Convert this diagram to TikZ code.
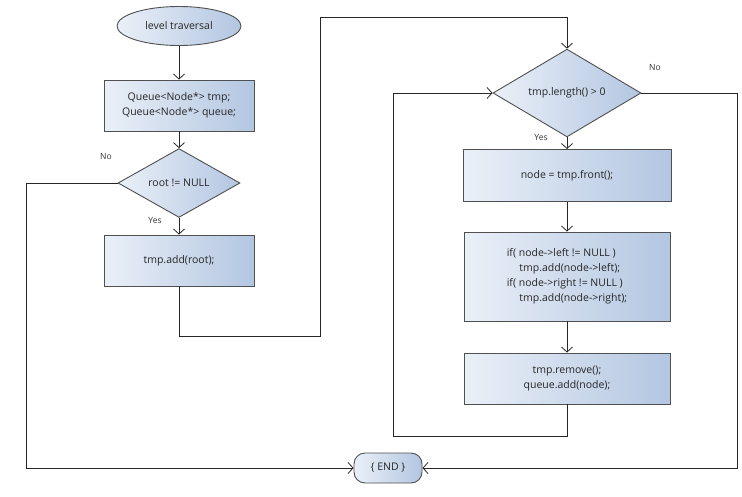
\documentclass[tikz,border=0pt]{standalone}
\usepackage{fontspec}
\setmainfont{Open Sans}
\usetikzlibrary{shapes.geometric,arrows.meta}
\definecolor{gl}{HTML}{EAF0F8}
\definecolor{gr}{HTML}{B3C6E1}
\definecolor{bd}{HTML}{505050}
\tikzset{
  x=1pt,y=-1pt,
  base/.style={draw=bd,line width=0.9pt,left color=gl,right color=gr,inner sep=0pt,font=\fontsize{10.5}{15}\selectfont,text=black!85},
  procbox/.style={base,rectangle},
  decision/.style={base,diamond},
  startshape/.style={base,ellipse},
  endshape/.style={base,rectangle,rounded corners=11pt},
  conn/.style={draw=black!85,line width=0.8pt},
  arr/.style={conn,-{Straight Barb[length=5pt,width=11pt,line width=0.8pt]}},
  lbl/.style={font=\fontsize{8.5}{10}\selectfont,text=black!80}
}
\begin{document}
\begin{tikzpicture}
\useasboundingbox[fill=white] (0,0) rectangle (742,496);
\node[startshape,minimum width=124,minimum height=39] (start) at (179,26) {level traversal};
\node[procbox,minimum width=150,minimum height=51,align=center] (box1) at (179,105.5) {Queue<Node*> tmp;\\Queue<Node*> queue;};
\node[decision,minimum width=122,minimum height=52] (dia1) at (179,183) {root != NULL};
\node[procbox,minimum width=150,minimum height=51] (box2) at (179,260.5) {tmp.add(root);};
\node[decision,minimum width=148,minimum height=59] (dia2) at (567,93) {tmp.length() > 0};
\node[procbox,minimum width=208,minimum height=52] (box3) at (567,175.5) {node = tmp.front();};
\node[procbox,minimum width=206,minimum height=89,align=left] (box4) at (567,276.5) {if( node->left != NULL )\\\hspace*{1.2em}tmp.add(node->left);\\if( node->right != NULL )\\\hspace*{1.2em}tmp.add(node->right);};
\node[procbox,minimum width=206,minimum height=51,align=center] (box5) at (567,378.5) {tmp.remove();\\queue.add(node);};
\node[endshape,minimum width=68,minimum height=30] (end) at (388,468) {\{ END \}};

\node[lbl] (no1) at (106,157) {No};
\node[lbl] (yes1) at (155,221) {Yes};
\node[lbl] (no2) at (655,68) {No};
\node[lbl] (yes2) at (541,138) {Yes};

\coordinate (cL) at (26,183);
\coordinate (c1) at (179,336);
\coordinate (c2) at (320,336);
\coordinate (c3) at (320,17);
\coordinate (c4) at (567,17);
\coordinate (c5) at (567,436);
\coordinate (c6) at (393,436);
\coordinate (c7) at (393,93);
\coordinate (cR) at (737,93);

\draw[arr] (start) -- (box1);
\draw[arr] (box1) -- (dia1);
\draw[arr] (dia1) -- (box2);
\draw[arr] (dia1.west) -- (cL) |- (end.west);
\draw[arr] (box2.south) -- (c1) -- (c2) -- (c3) -- (c4) -- (dia2.north);
\draw[arr] (dia2) -- (box3);
\draw[arr] (box3) -- (box4);
\draw[arr] (box4) -- (box5);
\draw[arr] (box5.south) -- (c5) -- (c6) -- (c7) -- (dia2.west);
\draw[arr] (dia2.east) -- (cR) |- (end.east);
\end{tikzpicture}
\end{document}
